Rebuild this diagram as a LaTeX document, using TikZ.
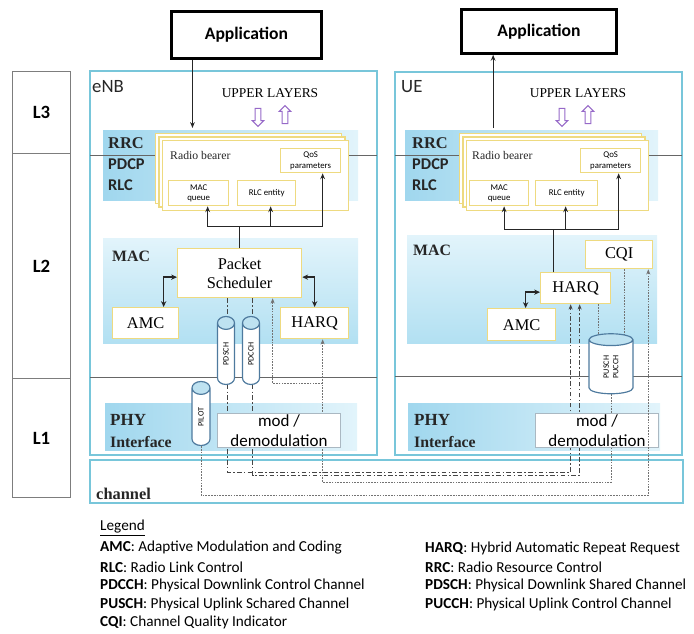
\documentclass[tikz,border=0pt]{standalone}
\usepackage{fontspec}
\setmainfont{Liberation Serif}
\newfontfamily\calib{Carlito}
\usetikzlibrary{positioning,calc,shapes.geometric,shapes.arrows,shadows,arrows.meta}
\pgfdeclarelayer{bg}
\pgfdeclarelayer{mid}
\pgfsetlayers{bg,mid,main}
\newcommand\pxu{0.03cm}
\definecolor{unitline}{RGB}{120,198,218}
\definecolor{bandA}{RGB}{160,215,238}
\definecolor{bandB}{RGB}{226,244,251}
\definecolor{bandC}{RGB}{178,224,242}
\definecolor{ybord}{RGB}{238,218,128}
\definecolor{modline}{RGB}{170,184,194}
\definecolor{cylline}{RGB}{78,122,158}
\definecolor{cylend}{RGB}{190,226,241}
\definecolor{ulpurple}{RGB}{150,105,200}
\definecolor{lgray}{RGB}{125,125,125}
\definecolor{wire}{RGB}{70,70,70}

\begin{document}
\begin{tikzpicture}[x=\pxu, y=-\pxu,
  wh/.style 2 args={minimum width=#1*\pxu, minimum height=#2*\pxu},
  lvl/.style={draw=lgray, line width=0.8pt, anchor=north west, inner sep=0pt,
    font=\calib\bfseries\fontsize{16}{18}\selectfont},
  app/.style={draw, line width=2.4pt, anchor=north west, inner sep=0pt,
    font=\calib\bfseries\fontsize{15}{17}\selectfont},
  unitbox/.style={draw=unitline, line width=1.2pt},
  layerline/.style={draw=black!60, line width=0.6pt},
  tag/.style={anchor=west, inner sep=0pt, text=black!85},
  card/.style={draw=ybord, line width=1.2pt, fill=white, anchor=north west,
    copy shadow={shadow xshift=-6.4pt, shadow yshift=6.4pt, draw=ybord, line width=1.2pt},
    copy shadow={shadow xshift=-3.2pt, shadow yshift=3.2pt, draw=ybord, line width=1.2pt}},
  ybox/.style={draw=ybord, line width=1.1pt, fill=white, anchor=north west,
    inner sep=0pt, align=center},
  tinytxt/.style={font=\calib\fontsize{7.5}{9}\selectfont},
  serifbig/.style={font=\fontsize{14}{16}\selectfont},
  modbox/.style={draw=modline, line width=0.8pt, fill=white, anchor=north west,
    inner sep=0pt, align=center, font=\calib\fontsize{14.5}{17}\selectfont},
  cyl/.style={cylinder, rotate=90, draw=cylline, line width=1pt,
    cylinder uses custom fill, cylinder end fill=cylend, cylinder body fill=white,
    inner sep=0pt, align=center, font=\calib\fontsize{7}{8}\selectfont},
  upper/.style={single arrow, draw=ulpurple, line width=0.9pt, fill=white,
    inner sep=2pt, single arrow head extend=2.5pt, minimum height=18*\pxu},
  arr/.style={-{Stealth[length=5pt,width=4pt]}, line width=0.9pt, black!85},
  dbl/.style={{Stealth[length=5pt,width=4.5pt]}-{Stealth[length=5pt,width=4.5pt]},
    line width=1.3pt, black!85},
  dl/.style={line width=0.8pt, wire, dash pattern=on 4pt off 2pt on 1.2pt off 2pt,
    -{Stealth[length=4.5pt,width=3.5pt]}},
  fb/.style={line width=0.7pt, black!55, dash pattern=on 1.4pt off 1pt},
  fbt/.style={fb, -{Stealth[length=4.5pt,width=3.5pt]}},
  leg/.style={anchor=west, inner sep=0pt, font=\calib\fontsize{13}{15}\selectfont}
]
\useasboundingbox (0,0) rectangle (694,633);

\node[lvl, wh={58}{82}] (l3) at (12,71) {L3};
\node[lvl, wh={58}{225}] (l2) at (12,153) {L2};
\node[lvl, wh={58}{119}] (l1) at (12,378) {L1};

\node[app, wh={150}{47}] (app1) at (170,10) {Application};
\node[app, wh={155}{44}] (app2) at (460,8) {Application};

\begin{pgfonlayer}{bg}
\draw[unitbox] (90,71) rectangle (377,455);
\draw[unitbox] (395,72) rectangle (682,455);
\draw[unitbox] (90,460) rectangle (683,503);
% eNB bands
\shade[left color=bandA, right color=bandB] (103,130) rectangle (358,200);
\shade[top color=bandB, bottom color=bandC] (103,238) rectangle (358,343);
\shade[left color=bandA, right color=bandB] (105,403) rectangle (357,450);
% UE bands
\shade[left color=bandA, right color=bandB] (405,130) rectangle (658,200);
\shade[top color=bandB, bottom color=bandC] (407,235) rectangle (657,343);
\shade[left color=bandA, right color=bandB] (408,403) rectangle (660,450);
\end{pgfonlayer}

\node[tag, font=\calib\fontsize{16}{18}\selectfont] (enb) at (92,87) {eNB};
\node[tag, font=\calib\fontsize{16}{18}\selectfont] (ue) at (401,87) {UE};
\node[font=\fontsize{11.5}{13}\selectfont] (ul1) at (270,93) {UPPER LAYERS};
\node[font=\fontsize{11.5}{13}\selectfont] (ul2) at (578,93) {UPPER LAYERS};
\node[upper, shape border rotate=270] (dn1) at (258,116) {};
\node[upper, shape border rotate=90] (up1) at (285,116) {};
\node[upper, shape border rotate=270] (dn2) at (562,116) {};
\node[upper, shape border rotate=90] (up2) at (588,116) {};

\node[tag, font=\bfseries\fontsize{14}{16}\selectfont] (rrc1) at (108,143) {RRC};
\node[tag, font=\calib\bfseries\fontsize{14}{16}\selectfont] (pdcp1) at (108,164) {PDCP};
\node[tag, font=\calib\bfseries\fontsize{14}{16}\selectfont] (rlc1) at (108,185) {RLC};
\node[tag, font=\bfseries\fontsize{13.5}{16}\selectfont] (mac1) at (112,256) {MAC};
\node[tag, font=\bfseries\fontsize{14.5}{16}\selectfont] (phy1) at (110,420) {PHY};
\node[tag, font=\bfseries\fontsize{13.5}{16}\selectfont] (if1) at (110,442) {Interface};

\node[tag, font=\bfseries\fontsize{14}{16}\selectfont] (rrc2) at (412,143) {RRC};
\node[tag, font=\calib\bfseries\fontsize{14}{16}\selectfont] (pdcp2) at (412,164) {PDCP};
\node[tag, font=\calib\bfseries\fontsize{14}{16}\selectfont] (rlc2) at (412,185) {RLC};
\node[tag, font=\bfseries\fontsize{13.5}{16}\selectfont] (mac2) at (413,250) {MAC};
\node[tag, font=\bfseries\fontsize{14.5}{16}\selectfont] (phy2) at (414,420) {PHY};
\node[tag, font=\bfseries\fontsize{13.5}{16}\selectfont] (if2) at (414,442) {Interface};

\node[tag, font=\bfseries\fontsize{14}{16}\selectfont] (chan) at (96,494) {channel};

\node[card, wh={186}{70}] (bearer1) at (162,140) {};
\node[tag, font=\fontsize{10}{12}\selectfont] (rb1) at (170,155) {Radio bearer};
\node[ybox, tinytxt, wh={60}{24}] (qos1) at (280,148) {QoS\\parameters};
\node[ybox, tinytxt, wh={60}{25}] (macq1) at (168,180) {MAC\\queue};
\node[ybox, tinytxt, wh={58}{25}] (rlce1) at (237,180) {RLC entity};

\node[card, wh={182}{70}] (bearer2) at (466,140) {};
\node[tag, font=\fontsize{10}{12}\selectfont] (rb2) at (472,155) {Radio bearer};
\node[ybox, tinytxt, wh={60}{24}] (qos2) at (580,148) {QoS\\parameters};
\node[ybox, tinytxt, wh={59}{25}] (macq2) at (469,180) {MAC\\queue};
\node[ybox, tinytxt, wh={62}{25}] (rlce2) at (535,180) {RLC entity};

\node[ybox, serifbig, wh={124}{49}] (ps) at (177,248) {Packet\\Scheduler};
\node[ybox, serifbig, wh={66}{31}] (amc1) at (112,307) {AMC};
\node[ybox, serifbig, wh={68}{31}] (harq1) at (280,307) {HARQ};

\node[ybox, serifbig, wh={67}{28}] (cqi) at (585,240) {CQI};
\node[ybox, serifbig, wh={70}{31}] (harq2) at (540,272) {HARQ};
\node[ybox, serifbig, wh={68}{32}] (amc2) at (487,308) {AMC};

\node[cyl, wh={17}{68}, aspect=2.4] (pdsch) at (226,354) {PDSCH};
\node[cyl, wh={17}{68}, aspect=2.4] (pdcch) at (251,354) {PDCCH};
\node[cyl, wh={18}{64}, aspect=2.4] (pilot) at (201,417) {PILOT};
\node[cyl, wh={44}{60}, aspect=0.8] (pxcch) at (611,367) {PUSCH\\PUCCH};

\node[modbox, wh={123}{34}] (mod1) at (217,413) {mod /\\demodulation};
\node[modbox, wh={123}{34}] (mod2) at (535,413) {mod /\\demodulation};

\begin{pgfonlayer}{mid}
\draw[layerline] (90,155) -- (377,155);
\draw[layerline] (90,377) -- (377,377);
\draw[layerline] (395,155) -- (682,155);
\draw[layerline] (395,376) -- (682,376);
% downlink data and control
\draw[dl] ($(ps.south)+(-12,0)$) -- ++(0,174) -| ($(harq2.south)+(-5,0)$);
\draw[dl] ($(ps.south)+(13,0)$) -- ++(0,177) -| ($(harq2.south)+(4,0)$);
% uplink feedback
\draw[fb] ($(harq2.south)+(23,0)$) -- ++(0,40);
\draw[fb] ($(cqi.south)+(5,0)$) -- ++(0,75);
\draw[fbt] (pxcch.west) -- ++(0,88) -| ($(harq1.south)+(8,0)$);
\draw[fbt] ($(harq1.south)+(8,44)$) -| ($(ps.south)+(33,0)$);
\end{pgfonlayer}

\draw[fbt] (pilot.west) -- ++(0,49) -| ($(cqi.south east)+(-5,0)$);

\coordinate (a1) at ($(app1.south west)!0.147!(app1.south east)$);
\coordinate (a2) at ($(app2.south west)!0.21!(app2.south east)$);
\draw[arr] (a1) -- ($(a1 |- bearer1.north)+(0,-12)$);
\draw[arr] ($(a2 |- bearer2.north)+(0,-12)$) -- (a2);

\draw[arr, line width=1.1pt] (ps.north) |- ($(macq1.south)+(9,20)$) -- ($(macq1.south)+(9,0)$);
\draw[arr, line width=1.1pt] (ps.north) |- ($(qos1.south)+(12,53)$) -- ($(qos1.south)+(12,0)$);
\draw[arr, line width=1.1pt] ($(rlce1.south)+(4,20)$) -- ($(rlce1.south)+(4,0)$);
\draw[dbl] ($(ps.west)+(0,4)$) -| ($(amc1.north)+(18,0)$);
\draw[dbl] ($(ps.east)+(0,4)$) -| (harq1.north);

\draw[arr, line width=1.1pt] ($(harq2.north)+(-22,0)$) |- ($(macq2.south)+(5,23)$) -- ($(macq2.south)+(5,0)$);
\draw[arr, line width=1.1pt] ($(harq2.north)+(-22,0)$) |- ($(qos2.south)+(8,56)$) -- ($(qos2.south)+(8,0)$);
\draw[arr, line width=1.1pt] ($(rlce2.south)+(-1,23)$) -- ($(rlce2.south)+(-1,0)$);
\draw[dbl] ($(harq2.west)+(0,4)$) -| ($(amc2.north)+(4,0)$);

\node[leg] (lg) at (100,528) {\underline{Legend}};
\node[leg] (lamc) at (100,548) {\textbf{AMC}: Adaptive Modulation and Coding};
\node[leg] (lrlc) at (100,567) {\textbf{RLC}: Radio Link Control};
\node[leg] (lpdcch) at (100,585) {\textbf{PDCCH}: Physical Downlink Control Channel};
\node[leg] (lpusch) at (100,604) {\textbf{PUSCH}: Physical Uplink Schared Channel};
\node[leg] (lcqi) at (100,622) {\textbf{CQI}: Channel Quality Indicator};
\node[leg] (lharq) at (425,548) {\textbf{HARQ}: Hybrid Automatic Repeat Request};
\node[leg] (lrrc) at (425,567) {\textbf{RRC}: Radio Resource Control};
\node[leg] (lpdsch) at (425,585) {\textbf{PDSCH}: Physical Downlink Shared Channel};
\node[leg] (lpucch) at (425,604) {\textbf{PUCCH}: Physical Uplink Control Channel};
\end{tikzpicture}
\end{document}
